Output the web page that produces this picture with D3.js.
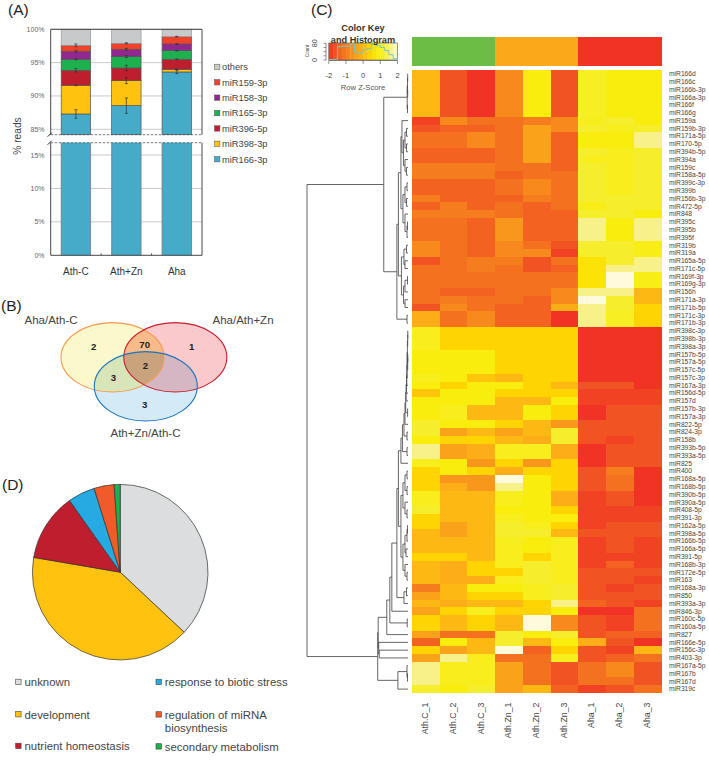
<!DOCTYPE html>
<html><head><meta charset="utf-8">
<script src="https://cdn.jsdelivr.net/npm/d3@7/dist/d3.min.js"></script>
<style>html,body{margin:0;padding:0;background:#fff}svg{display:block}text{font-family:"Liberation Sans",Arial,sans-serif}</style>
</head><body><svg id="c" width="709" height="761"></svg>
<script>
// ---------- Panel A data
const groups = ["Ath-C","Ath+Zn","Aha"];
const barSeries = ["miR166-3p","miR398-3p","miR396-5p","miR165-3p","miR158-3p","miR159-3p","others"];
const barColors = ["#45abc8","#ffc20e","#be1e2d","#1db04f","#92278f","#f0412a","#c8c9cb"];
const barAthC  = [87.3,4.3,2.25,1.65,1.2,0.9,2.4];
const barAthZn = [88.55,3.75,1.9,1.7,1.1,0.9,2.1];
const barAha   = [93.6,0.4,1.5,1.3,1.0,1.1,1.1];
const errAthC  = [0.65,0.05,0.25,0.08,0.15,0.2];
const errAthZn = [1.15,0.45,0.4,0.15,0.15,0.08];
const errAha   = [0.25,0.05,0.05,0.05,0.05,0.05];
const upperTicks = [85,90,95,100];
const lowerTicks = [0,5,10,15];
const legendOrderA = ["others","miR159-3p","miR158-3p","miR165-3p","miR396-5p","miR398-3p","miR166-3p"];
// ---------- Panel B data
const vennSets = ["Aha/Ath-C","Aha/Ath+Zn","Ath+Zn/Ath-C"];
const vennCounts = ["2","70","1","2","3","3"];
// ---------- Panel D data
const pieLabels = ["unknown","development","nutrient homeostasis","response to biotic stress","regulation of miRNA biosynthesis","secondary metabolism"];
const pieValues = [37,40.7,12.5,5,3.7,1.1];
const pieColors = ["#dcddde","#ffc20e","#be1e2d","#27aae1","#f15a29","#1db04f"];
// ---------- Panel C data
const heatCols = ["Ath.C_1","Ath.C_2","Ath.C_3","Ath.Zn_1","Ath.Zn_2","Ath.Zn_3","Aha_1","Aha_2","Aha_3"];
const annotationColors = ["#6bbd45","#fba91a","#f13325"];
const heatRows = ["miR166d","miR166c","miR166b-3p","miR166a-3p","miR166f","miR166g","miR159a","miR159b-3p","miR171a-5p","miR170-5p","miR394b-5p","miR394a","miR159c","miR158a-5p","miR399c-3p","miR399b","miR156b-3p","miR472-5p","miR848","miR395c","miR395b","miR395f","miR319b","miR319a","miR165a-5p","miR171c-5p","miR169f-3p","miR169g-3p","miR156h","miR171a-3p","miR171b-5p","miR171c-3p","miR171b-3p","miR398c-3p","miR398b-3p","miR398a-3p","miR157b-5p","miR157a-5p","miR157c-5p","miR157c-3p","miR167a-3p","miR156d-5p","miR157d","miR157b-3p","miR157a-3p","miR822-5p","miR824-3p","miR158b","miR393b-5p","miR393a-5p","miR825","miR400","miR168a-5p","miR168b-5p","miR390b-5p","miR390a-5p","miR408-5p","miR391-3p","miR162a-5p","miR398a-5p","miR166b-5p","miR166a-5p","miR391-5p","miR168b-3p","miR172e-5p","miR163","miR168a-3p","miR850","miR393a-3p","miR846-3p","miR160c-5p","miR160a-5p","miR827","miR166e-5p","miR156c-3p","miR403-3p","miR167a-5p","miR167b","miR167d","miR319c"];
// binned z-score per cell: 0 = -2 ... 10 = +2
const heatLevels = [
[5,1,0,3,7,1,7.7,7,7],[5,1,0,3,7,1,7.7,7,7],[5,1,0,3,7,1,7.7,7,7],[5,1,0,3,7,1,7.7,7,7],[5,1,0,3,7,1,7.7,7,7],[5,1,0,3,7,1,7.7,7,7],
[0.5,3,2,2,2.5,3,7.5,8,7],[1,1.5,1.5,2,4,3,8,7.5,8],[2,2,3,2,4,1.5,7,7,9],[2,2,3,2,4,1.5,7,7,9],[1.5,1.5,1.5,2,4,1.5,8,7.5,8],[1.5,1.5,1.5,2,4,1.5,7.5,7.5,8],
[2.5,2.5,2.5,2,2,1.5,8,7.5,8],[2.5,2.5,2.5,1.5,2,2,8,7.5,8],[1.5,1.5,1.5,2,3,2,8,7.5,8],[1.5,1.5,1.5,2,3,2,8,7.5,8],[2.5,1.5,1.5,1.5,2.5,2,8,8,8],[1.5,2.5,1.5,2,1.5,2,7.3,8,8],
[2.5,2.5,2.5,2,1.5,1.5,8,8,7],[2,2,1.5,3.5,1.5,1.5,9,7,9],[2,2,1.5,3.5,1.5,1.5,9,7,9],[2,2,1.5,3.5,1.5,1.5,9,7,9],[3,2,1.5,3,2,1,8,8,7.3],[3,2,1.5,3,3,0.5,8,8,7.3],
[1,2,2.5,2.5,1,2,6.6,8,9],[2,2,2.5,2,1,1.5,6.6,9,9],[2,2,2,2,2,2,6.6,10,7.3],[2,2,2,2,2,2,6.6,10,7.3],[2,1.5,1.5,2,2,3,9,9,5],[2,2.5,2,2,1.5,3,10,8,5],[1,3,2,1.5,1.5,4.5,9,8,6],[4.5,2,3,1.5,1.5,0,9,7.7,6],[4.5,2,3,1.5,1.5,0,9,7.7,6],
[7.5,6,6,6,6,6,0,0,0],[7.5,6,6,6,6,6,0,0,0],[7.5,6,6,6,6,6,0,0,0],[7,7,7,6,6,6,0,0,0],[7,7,7,6,6,6,0,0,0],[7,7,7,6,6,6,0,0,0],[7.5,7,5.5,5,6,6,0,0,0],[7,6,7,7,6,5,1,1,0],[5.5,7,7,6,6,6,0.5,0.5,0.5],[7,7,7,5,5,7,0.5,0.5,0.5],
[7,7.5,5,5,7,6,0,1,1],[7,7.5,5,5,7,6,0,1,1],[8,7,7,6,5,3.5,1,1,1],[8,4,5,4,5,8,1,1,1],[7,6,6,5,4.5,8,1,0.5,1],[9,4,4.5,7.5,7.5,4.5,0,1,1],[9,4,4.5,7.5,7.5,4.5,0,1,1],[7.5,7,3.5,6,3.5,6,0,1,1],[6,7,6,4.5,6,6,1,2.5,0],
[6,3.5,3.5,10,7,6,1,2,0],[6,4.5,3.5,9,7,6,1,2,0],[7.5,5,5,7.5,7,4.5,0.5,1,0],[7.5,5,5,7.5,7,4.5,0.5,1,0],[8,5,5,7,7,6,0.5,0.5,0.5],[6,5,5,7.5,7,7,0.5,0.5,0.5],[6,4,5,8,7.5,6,0.5,1,1],[5,4,5,8,8,5,1,1,1],
[5,5,5,7.5,7,7.5,0.5,1,0.5],[5,5,5,7.5,7,7.5,0.5,1,0.5],[6,6,5,7.5,6,7.5,0.5,0.5,0.5],[5,4.5,6,7.5,8,7.5,0.5,1.5,0.5],[5,4.5,6,6,8,7.5,1,1,1],[5,4.5,4.5,7.5,8,7.5,1,1,0.5],[2.5,5,7,7,7.5,8,1,0.5,1],[4,5,6,6,7.5,8,1,1,1],
[5,4.5,5,5,6,9,1.5,1,0.5],[4,6,7.5,6,6,7,0,0,2],[6,5,6,5,10,3,1,0.5,2],[6,5,6,5,10,3,1,0.5,2],[4,2,2,8,7,8,1,1.5,1.5],[1.5,7,5,8,5,7,4.5,1,0],[6,4,5,10,1.5,6,1,0.5,5],[4,9,7.5,2,2,7.5,1,1.5,2],
[9,7.5,7.5,4,2,1,2,3,1],[9,7.5,7.5,4,2,1,2,3,1],[9,7.5,7.5,4,2,1,2,2,1],[8,7,8,4,5,1.5,0.5,1,2]
];
const heatPalette = ["#f13325","#f15322","#f4711f","#f7891d","#faa21a","#fdb813","#ffd400","#f9ed0e","#f6ee2c","#f8f18a","#fdfbdc"];
// row dendrogram: [height, left, right]; 0 = a leaf, consumed in row order
const g1 = [6,0,[4.5,[3,[1.5,0,0],[1.5,0,0]],[3,0,[1.5,0,0]]]];
const g2 = [5,[3,[1,0,0],[1.5,0,0]],[3,0,[1,[0.5,0,0],0]]];
const h1 = [6.5,[4,[1.5,0,0],[3,0,0]],[4.5,[3,[0.5,0,0],0],[3,0,0]]];
const treeTop = [24,[0.8,[0.5,[0.3,0,0],[0.3,0,0]],[0.5,0,0]],[11,[9.5,[7,g1,g2],h1],[1,0,0]]];
const s1 = [0.6,[0.3,[0.2,0,0],0],[0.3,[0.2,0,0],0]];
const s5 = [1.9,[1.5,[1.2,[0.9,s1,0],0],0],0];
const s10 = [7,[5.5,[4,[3,[2.3,s5,[0.4,0,0]],0],[1,0,0]],[1,0,0]],0];
const t1 = [7,[5,[3,[1,0,0],[1,0,0]],[3,0,[1,0,0]]],[5,[3,[1,[0.5,0,0],0],[2,0,0]],[3,0,[1,0,0]]]];
const core = [9.5,s10,t1];
const treeP = [29.5,[21,[18,[16,[11,core,[4,[1.5,0,0],0]],0],[0.8,0,0]],0],[29,0,[28.5,0,0]]];
const treeBottom = [30,treeP,[10,[1,0,[0.5,0,0]],0]];
const treeRoot = [100,treeTop,treeBottom];
// histogram in colour key (bins of 0.25 from -2 to 2)
const histEdges = d3.range(-2,2.01,0.25);
const histCounts = [2,3,64,66,66,76,36,35,50,55,75,70,60,45,25,6];

const svg = d3.select("#c");
const ink="#444";
function letter(t,x,y){svg.append("text").attr("x",x).attr("y",y).attr("font-size",15.5).attr("fill","#222").text(t);}
letter("(A)",8,15);letter("(B)",1,311);letter("(C)",311,15);letter("(D)",2,490);

// ================ PANEL A
(function(){
 const L=50.7,R=202;
 const x=d3.scaleBand().domain(groups).range([L,R]).paddingInner(0.417).paddingOuter(0.208);
 const yU=d3.scaleLinear().domain([85,100]).range([129.3,29.3]);
 const yL=d3.scaleLinear().domain([0,15]).range([255.3,155]);
 const breakU=134.7,breakL=142.7;
 const g=svg.append("g");
 upperTicks.forEach(t=>g.append("line").attr("x1",L).attr("x2",R).attr("y1",yU(t)).attr("y2",yU(t)).attr("stroke","#bbb").attr("stroke-width",.8));
 lowerTicks.slice(1).forEach(t=>g.append("line").attr("x1",L).attr("x2",R).attr("y1",yL(t)).attr("y2",yL(t)).attr("stroke","#bbb").attr("stroke-width",.8));
 const tables=[barAthC,barAthZn,barAha],errs=[errAthC,errAthZn,errAha];
 groups.forEach((gr,i)=>{
  const vals=tables[i];let c=0;const bx=x(gr),bw=x.bandwidth();
  g.append("rect").attr("x",bx).attr("width",bw).attr("y",breakL).attr("height",yL(0)-breakL).attr("fill",barColors[0]);
  g.append("line").attr("x1",bx).attr("x2",bx).attr("y1",breakL).attr("y2",yL(0)).attr("stroke","#777").attr("stroke-width",.8);
  g.append("line").attr("x1",bx+bw).attr("x2",bx+bw).attr("y1",breakL).attr("y2",yL(0)).attr("stroke","#777").attr("stroke-width",.8);
  const tops=[];
  vals.forEach((v,k)=>{
    const y0=Math.min(yU(c),breakU),y1=yU(c+v);
    g.append("rect").attr("x",bx).attr("width",bw).attr("y",y1).attr("height",y0-y1).attr("fill",barColors[k]).attr("stroke",k==6?"#999":"#555").attr("stroke-width",.7);
    c+=v;tops.push(c);
  });
  errs[i].forEach((e,k)=>{
    const cx=bx+bw/2,t=tops[k];
    const a=g.append("g").attr("stroke","#333").attr("stroke-width",.7);
    a.append("line").attr("x1",cx).attr("x2",cx).attr("y1",yU(t+e)).attr("y2",yU(t-e));
    [t+e,t-e].forEach(v=>a.append("line").attr("x1",cx-1.5).attr("x2",cx+1.5).attr("y1",yU(v)).attr("y2",yU(v)));
  });
 });
 const fr=g.append("g").attr("fill","none");
 fr.append("path").attr("d",`M${L},${breakU}V${yU(100)}H${R}V${breakU}`).attr("stroke","#333").attr("stroke-width",.9);
 fr.append("path").attr("d",`M${L},${breakL}V${yL(0)}H${R}V${breakL}`).attr("stroke","#333").attr("stroke-width",.9);
 [breakU,breakL].forEach(y=>g.append("line").attr("x1",L).attr("x2",R).attr("y1",y).attr("y2",y).attr("stroke","#444").attr("stroke-width",.7).attr("stroke-dasharray","2.5 1.5"));
 [breakU,breakL].forEach(y=>g.append("line").attr("x1",L-3).attr("x2",L+1).attr("y1",y+2).attr("y2",y-2).attr("stroke","#222").attr("stroke-width",1));
 [1,2].forEach(i=>{const xx=(x(groups[i-1])+x.bandwidth()+x(groups[i]))/2;g.append("line").attr("x1",xx).attr("x2",xx).attr("y1",yL(0)).attr("y2",yL(0)-2).attr("stroke","#333").attr("stroke-width",.8);});
 const lab=(t,y)=>g.append("text").attr("x",44.5).attr("y",y+2.5).attr("text-anchor","end").attr("font-size",7).attr("fill","#666").text(t+"%");
 upperTicks.forEach(t=>lab(t,yU(t)));lowerTicks.forEach(t=>lab(t,yL(t)));
 g.append("text").attr("transform","translate(20.5,136) rotate(-90)").attr("text-anchor","middle").attr("font-size",10.2).attr("fill",ink).text("% reads");
 groups.forEach(gr=>g.append("text").attr("x",x(gr)+x.bandwidth()/2).attr("y",274.5).attr("text-anchor","middle").attr("font-size",10).attr("fill","#333").text(gr));
 const ly=d3.scalePoint().domain(legendOrderA).range([67,159.3]);
 legendOrderA.forEach(s=>{
  const col=barColors[barSeries.indexOf(s)];
  g.append("rect").attr("x",214.5).attr("y",ly(s)-2.8).attr("width",5.4).attr("height",5.4).attr("fill",col).attr("stroke","#555").attr("stroke-width",.5);
  g.append("text").attr("x",222).attr("y",ly(s)+3.2).attr("font-size",9.3).attr("fill",ink).text(s);
 });
})();

// ================ PANEL B
(function(){
 const E=[{cx:112.5,cy:357.3,f:"#fbf8cc",s:"#f79a4d"},{cx:175.3,cy:357.3,f:"#f9c9cc",s:"#c8202f"},{cx:145.8,cy:386.3,f:"#d5eaf7",s:"#1b75bc"}];
 const rx=51.5,ry=34.7;
 const g=svg.append("g"),defs=svg.append("defs");
 E.forEach((e,i)=>{defs.append("clipPath").attr("id","v"+i).append("ellipse").attr("cx",e.cx).attr("cy",e.cy).attr("rx",rx).attr("ry",ry);});
 E.forEach(e=>g.append("ellipse").attr("cx",e.cx).attr("cy",e.cy).attr("rx",rx).attr("ry",ry).attr("fill",e.f));
 const ov=(a,b,col)=>g.append("g").attr("clip-path",`url(#v${a})`).append("ellipse").attr("cx",E[b].cx).attr("cy",E[b].cy).attr("rx",rx).attr("ry",ry).attr("fill",col);
 ov(0,1,"#f9bb8a");ov(0,2,"#d8e5b8");ov(1,2,"#d4b7c2");
 g.append("g").attr("clip-path","url(#v0)").append("g").attr("clip-path","url(#v1)").append("ellipse").attr("cx",E[2].cx).attr("cy",E[2].cy).attr("rx",rx).attr("ry",ry).attr("fill","#c9a27e");
 [0,1,2].forEach(i=>g.append("ellipse").attr("cx",E[i].cx).attr("cy",E[i].cy).attr("rx",rx).attr("ry",ry).attr("fill","none").attr("stroke",E[i].s).attr("stroke-width",1.1));
 const pos=[[93.7,346.7],[144.7,344],[191.7,346.7],[145.3,365.7],[113.3,377.3],[144.7,404.7]];
 vennCounts.forEach((t,i)=>g.append("text").attr("x",pos[i][0]).attr("y",pos[i][1]+3.5).attr("text-anchor","middle").attr("font-size",9.6).attr("font-weight","bold").attr("fill","#222").text(t));
 const lp=[[51,324],[243,324],[145.5,437]];
 vennSets.forEach((t,i)=>g.append("text").attr("x",lp[i][0]).attr("y",lp[i][1]).attr("text-anchor","middle").attr("font-size",11.5).attr("fill",ink).text(t));
})();

// ================ PANEL D
(function(){
 const g=svg.append("g").attr("transform","translate(120.2,572.2)");
 const arcs=d3.pie().sort(null)(pieValues);
 const arc=d3.arc().innerRadius(0).outerRadius(87.8);
 g.selectAll("path").data(arcs).join("path").attr("d",arc).attr("fill",(d,i)=>pieColors[i]).attr("stroke","#333").attr("stroke-width",.7);
 const pos=[[15.7,682],[15.7,714.3],[15.7,746],[156,682],[156,714.5],[156,746.5]];
 pieLabels.forEach((t,i)=>{
  const [x,y]=pos[i];
  svg.append("rect").attr("x",x).attr("y",y-2.8).attr("width",5.4).attr("height",5.4).attr("fill",pieColors[i]).attr("stroke","#444").attr("stroke-width",.6);
  const lines=t==="regulation of miRNA biosynthesis"?["regulation of miRNA","biosynthesis"]:[t];
  lines.forEach((l,k)=>svg.append("text").attr("x",x+8.8).attr("y",y+4.2+k*13.4).attr("font-size",11.4).attr("fill",ink).text(l));
 });
})();

// ================ PANEL C
(function(){
 const x=d3.scaleBand().domain(heatCols).range([412,661.3]);
 const y=d3.scaleBand().domain(heatRows).range([70,693]);
 const color=d3.scaleLinear().domain(d3.range(11)).range(heatPalette);
 const g=svg.append("g").attr("shape-rendering","crispEdges");
 heatCols.forEach((c,j)=>g.append("rect").attr("x",x(c)).attr("y",36.7).attr("width",x.bandwidth()+.4).attr("height",28.9).attr("fill",annotationColors[Math.floor(j/3)]));
 heatRows.forEach((r,i)=>heatLevels[i].forEach((v,j)=>{
  g.append("rect").attr("x",x(heatCols[j])).attr("y",y(r)).attr("width",x.bandwidth()+.4).attr("height",y.bandwidth()+.4).attr("fill",color(v));
 }));
 heatRows.forEach(r=>svg.append("text").attr("x",669).attr("y",y(r)+y.bandwidth()/2+2.3).attr("font-size",6.7).attr("fill",ink).text(r));
 heatCols.forEach(c=>svg.append("text").attr("transform",`translate(${x(c)+x.bandwidth()/2-0.5},702.5) rotate(-90)`).attr("text-anchor","end").attr("font-size",8.8).attr("dy","0.33em").attr("fill",ink).text(c));
 const hx=d3.scaleLinear().domain([0,100]).range([408,307]);
 const den=svg.append("g").attr("fill","none").attr("stroke","#4a4a4a").attr("stroke-width",.85);
 let leaf=0;
 function walk(n){
  if(n===0){const r=heatRows[leaf++];return {y:y(r)+y.bandwidth()/2,h:0};}
  const a=walk(n[1]),b=walk(n[2]);
  den.append("path").attr("d",`M${hx(a.h)},${a.y}H${hx(n[0])}V${b.y}H${hx(b.h)}`);
  return {y:(a.y+b.y)/2,h:n[0]};
 }
 walk(treeRoot);
 const k=d3.scaleLinear().domain([-2,2]).range([328.8,397.5]);
 const kl=d3.scaleLinear().domain([-2,2]).range([0,10]);
 const stepEdges=d3.range(-2,2,0.25);
 stepEdges.forEach(z=>svg.append("rect").attr("x",k(z)).attr("y",43).attr("width",k(z+0.25)-k(z)+.3).attr("height",17).attr("fill",color(kl(z+0.125))));
 svg.append("rect").attr("x",k(-2)).attr("y",43).attr("width",k(2)-k(-2)).attr("height",17).attr("fill","none").attr("stroke","#555").attr("stroke-width",.6);
 const cnt=d3.scaleLinear().domain([0,80]).range([60,43.3]);
 const hist=d3.line().curve(d3.curveStepAfter).x((d,i)=>k(histEdges[i])).y(d=>cnt(d));
 svg.append("path").attr("d",hist(histCounts.concat([0]))).attr("fill","none").attr("stroke","#7fc4bd").attr("stroke-width",1);
 const ax=svg.append("g").attr("stroke","#444").attr("stroke-width",.6);
 ax.append("line").attr("x1",k(-2)).attr("x2",k(2)).attr("y1",60.5).attr("y2",60.5);
 [-2,-1,0,1,2].forEach(z=>{
   ax.append("line").attr("x1",k(z)).attr("x2",k(z)).attr("y1",60.5).attr("y2",64);
   svg.append("text").attr("x",k(z)).attr("y",77.5).attr("text-anchor","middle").attr("font-size",7.6).attr("fill",ink).text(String(z));
 });
 ax.append("line").attr("x1",326).attr("x2",326).attr("y1",cnt(0)).attr("y2",cnt(80));
 [0,20,40,60,80].forEach(v=>ax.append("line").attr("x1",323.5).attr("x2",326).attr("y1",cnt(v)).attr("y2",cnt(v)));
 [0,80].forEach(v=>svg.append("text").attr("transform",`translate(316.5,${cnt(v)}) rotate(-90)`).attr("text-anchor","middle").attr("font-size",7.2).attr("fill",ink).text(String(v)));
 svg.append("text").attr("transform","translate(309,51) rotate(-90)").attr("text-anchor","middle").attr("font-size",4.6).attr("fill",ink).text("Count");
 svg.append("text").attr("x",363).attr("y",31).attr("text-anchor","middle").attr("font-size",9.2).attr("font-weight","bold").attr("fill","#333").text("Color Key");
 svg.append("text").attr("x",363).attr("y",43).attr("text-anchor","middle").attr("font-size",9.2).attr("font-weight","bold").attr("fill","#333").text("and Histogram");
 svg.append("text").attr("x",363).attr("y",90).attr("text-anchor","middle").attr("font-size",7.6).attr("fill","#555").text("Row Z-Score");
})();
</script></body></html>
